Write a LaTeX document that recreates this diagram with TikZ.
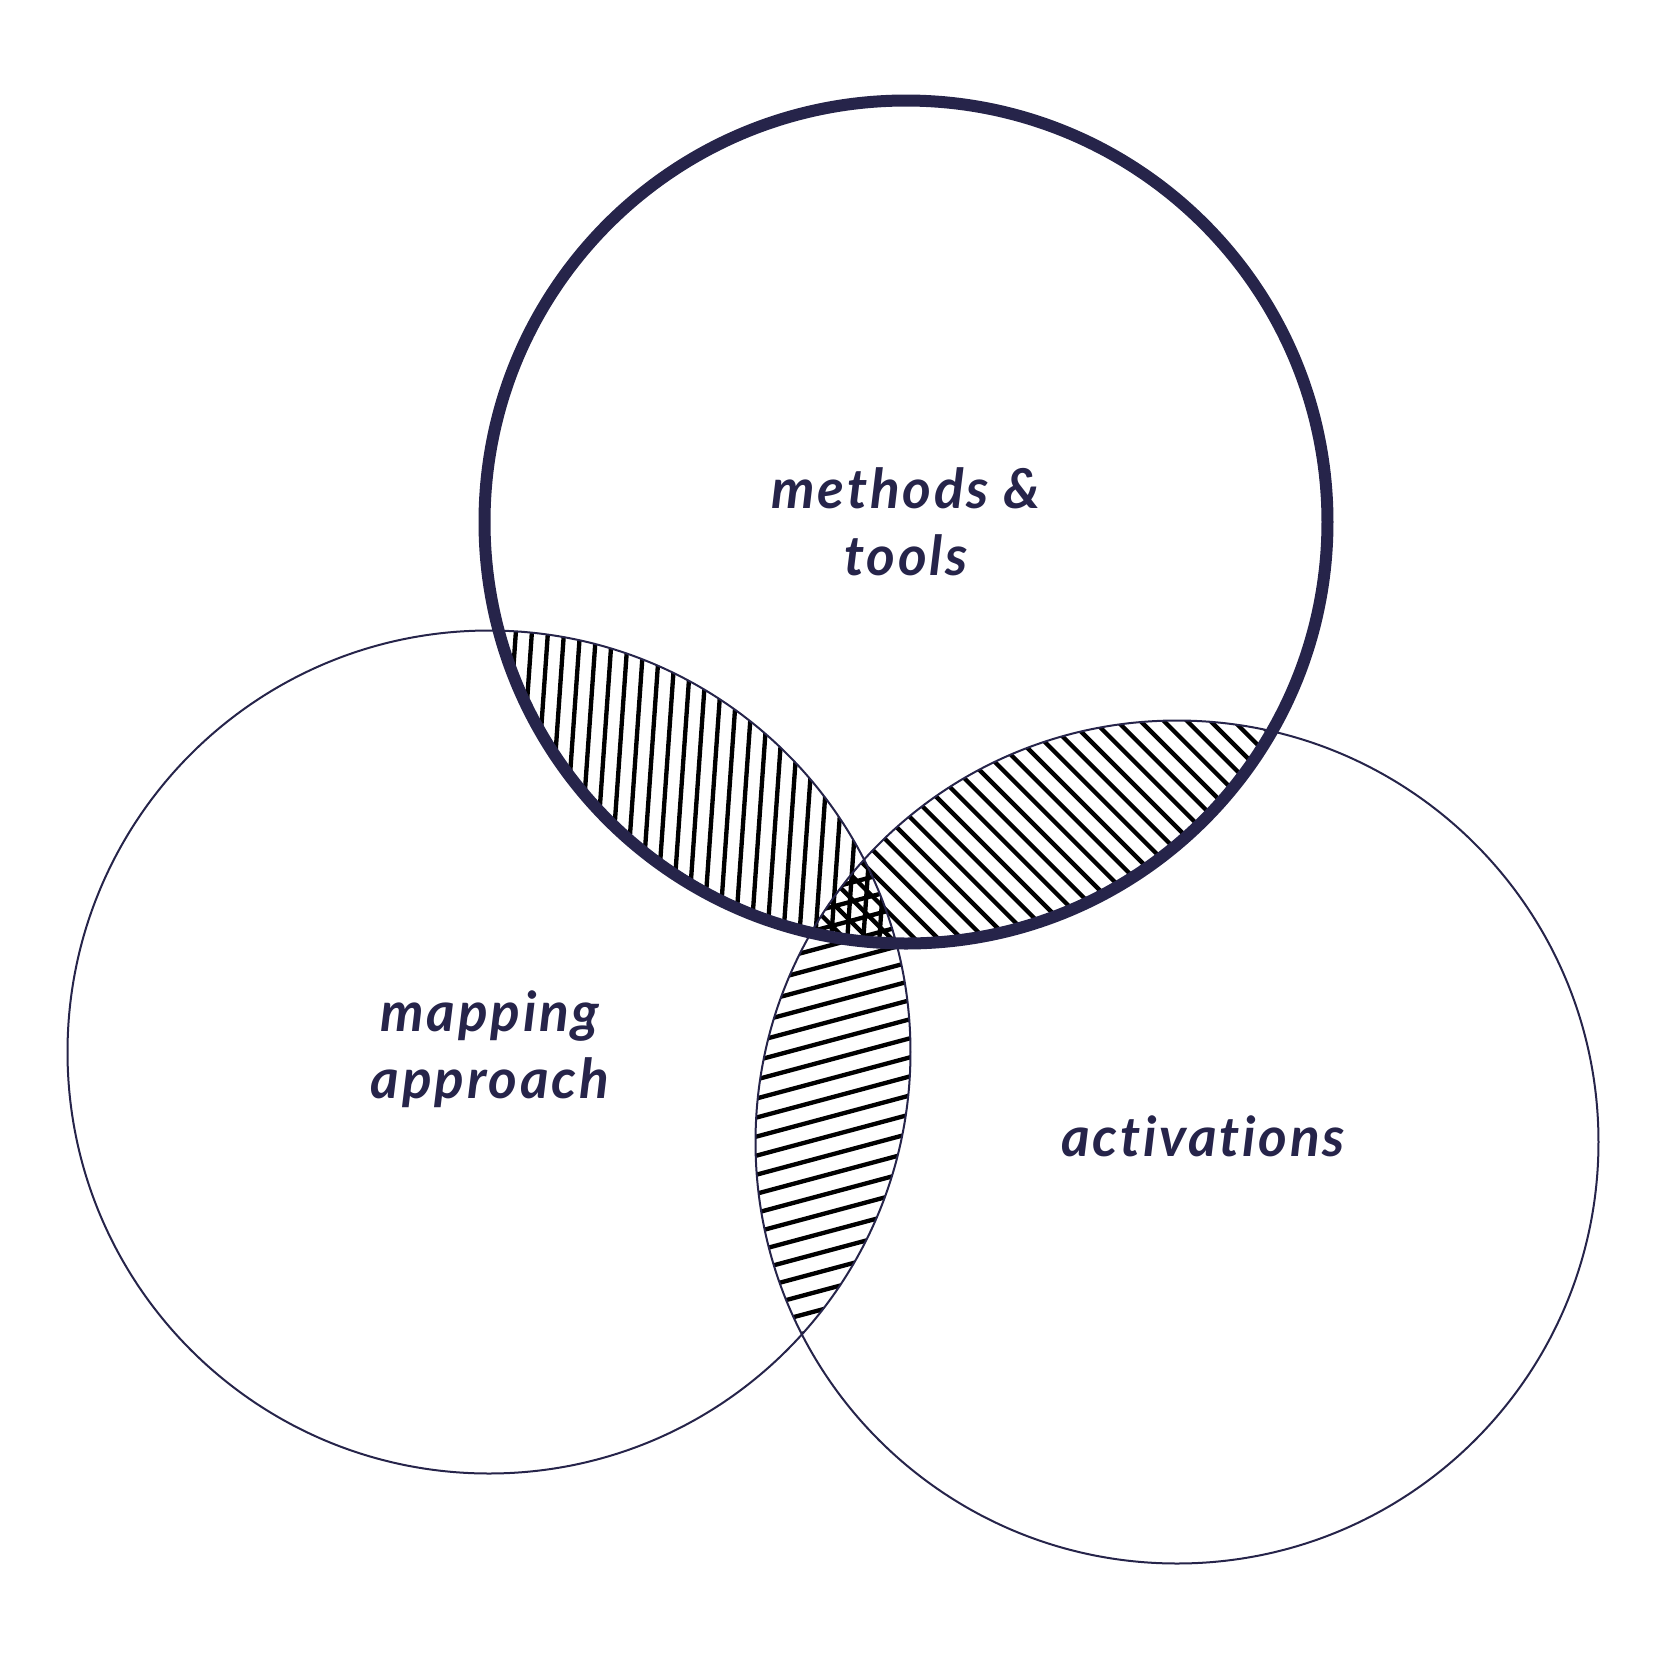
\documentclass[tikz,border=0pt]{standalone}
\usepackage{fontspec}
\newfontfamily\labelfont{Lato}[LetterSpace=5, Ligatures={NoCommon}]
\definecolor{navy}{HTML}{26244A}
\def\R{126.45pt}
\tikzset{
  thinring/.style={draw=navy, line width=0.6pt},
  thickring/.style={draw=navy, line width=3.6pt},
  hatch/.style={draw=black, line width=1.3pt},
  label/.style={text=navy, inner sep=0pt, anchor=base,
    font=\labelfont\bfseries\itshape\fontsize{16.5}{20.1}\selectfont},
}
\begin{document}
\begin{tikzpicture}[x=0.3pt, y=-0.3pt]
  \useasboundingbox (0,0) rectangle (1667,1667);
  \coordinate (cT) at (906,522);
  \coordinate (cL) at (489,1052);
  \coordinate (cR) at (1177,1142);

  % methods & tools / mapping approach overlap
  \begin{scope}
    \clip (cT) circle[radius=\R];
    \clip (cL) circle[radius=\R];
    \begin{scope}[shift={(697.5,787)}, rotate=86]
      \foreach \k in {-22,...,22} \draw[hatch] (-340,\k*16) -- (340,\k*16);
    \end{scope}
  \end{scope}
  % methods & tools / activations overlap
  \begin{scope}
    \clip (cT) circle[radius=\R];
    \clip (cR) circle[radius=\R];
    \begin{scope}[shift={(1041.5,832)}, rotate=-45]
      \foreach \k in {-22,...,22} \draw[hatch] (-340,\k*16.5) -- (340,\k*16.5);
    \end{scope}
  \end{scope}
  % mapping approach / activations overlap
  \begin{scope}
    \clip (cL) circle[radius=\R];
    \clip (cR) circle[radius=\R];
    \begin{scope}[shift={(833,1097)}, rotate=15]
      \foreach \k in {-20,...,20} \draw[hatch] (-340,\k*18.4) -- (340,\k*18.4);
    \end{scope}
  \end{scope}

  \draw[thinring] (cL) circle[radius=\R];
  \draw[thinring] (cR) circle[radius=\R];
  \draw[thickring] (cT) circle[radius=\R];

  \node[label] (methods) at (906,575)
    {\begin{tabular}[b]{@{}c@{}}methods \&\\tools\end{tabular}};
  \node[label] (mapping) at (490,1098)
    {\begin{tabular}[b]{@{}c@{}}mapping\\approach\end{tabular}};
  \node[label] (activations) at (1203,1156) {activations};
\end{tikzpicture}
\end{document}
